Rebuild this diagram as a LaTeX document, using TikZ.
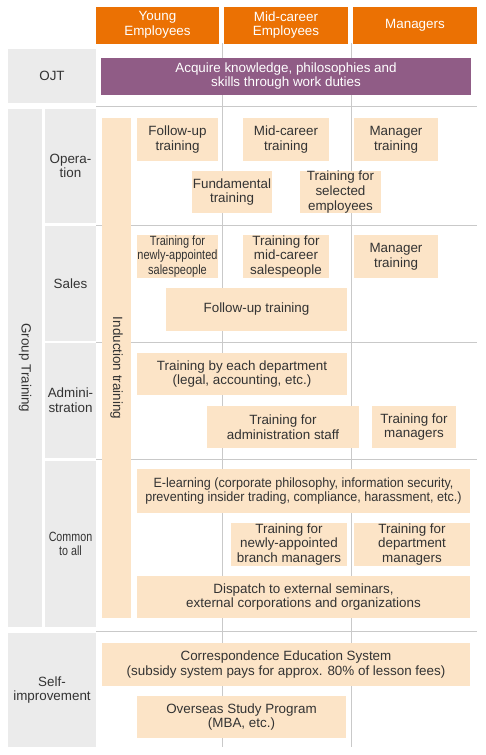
\documentclass[tikz,border=0pt]{standalone}
\usepackage{fontspec}
\setmainfont{Liberation Sans}
\usepackage{graphicx}
\usepackage{xcolor}
\usepackage{tikz}
\definecolor{hdrorange}{HTML}{EB7103}
\definecolor{ojtpurple}{HTML}{905C86}
\definecolor{catgray}{HTML}{EBEBEB}
\definecolor{peach}{HTML}{FCE4C7}
\definecolor{gridgray}{HTML}{C9C9C9}
\definecolor{txt}{HTML}{333333}
\newcommand{\cond}[2][0.84]{\scalebox{#1}[1]{#2}}

\begin{document}
\begin{tikzpicture}[x=1pt,y=-1pt,
every node/.style={font=\fontsize{13.4}{14.6}\selectfont,text=txt,align=center,inner sep=0pt},
hdr/.style={fill=hdrorange,text=white,minimum height=37,minimum width=124},
cat/.style={fill=catgray},
pch/.style={fill=peach},
grid/.style={gridgray,line width=1pt}]
\useasboundingbox(0,0)rectangle(485,755);
\draw[grid](222,43)--(222,747) (351,43)--(351,747);
\foreach \yy in {106,225,342,459,631}
\draw[grid](96,\yy)--(477,\yy);
\node[hdr,minimum width=123](young)at(157.5,25){Young\\Employees};
\node[hdr](midcareer)at(286,25){Mid-career\\Employees};
\node[hdr](managers)at(415,25){Managers};
\node[cat,minimum width=88,minimum height=54](ojt)at(52,76){OJT};
\node[fill=ojtpurple,text=white,minimum width=370,minimum height=37](duties)at(286,76){Acquire knowledge, philosophies and\\skills through work duties};
\node[cat,minimum width=34,minimum height=518](group)at(25,368){};
\node[rotate=-90](grouptxt)at(group.center){Group Training};
\node[cat,minimum width=51,minimum height=114](operation)at(70.5,166){Opera-\\tion};
\node[cat,minimum width=51,minimum height=115](sales)at(70.5,283.5){Sales};
\node[cat,minimum width=51,minimum height=115](admin)at(70.5,400.5){Admini-\\stration};
\node[cat,minimum width=51,minimum height=166](common)at(70.5,544){\cond[0.8]{Common}\\\cond[0.8]{to all}};
\node[cat,minimum width=88,minimum height=114](self)at(52,690){Self-\\improvement};
\node[pch,minimum width=29,minimum height=500](induction)at(116.5,368){};
\node[rotate=-90](inductiontxt)at(induction.center){Induction training};
\node[pch,minimum width=81,minimum height=43](followup)at(177.5,139.5){Follow-up\\training};
\node[pch,minimum width=86,minimum height=43](midtrain)at(286,139.5){Mid-career\\training};
\node[pch,minimum width=84,minimum height=43](mgrtrain)at(396,139.5){Manager\\training};
\node[pch,minimum width=80,minimum height=42](fundamental)at(232,192){Fundamental\\training};
\node[pch,minimum width=81,minimum height=42](selected)at(340.5,192){Training for\\selected\\employees};
\node[pch,minimum width=81,minimum height=43](newsales)at(177.5,256.5){\cond[0.82]{Training for}\\\cond[0.82]{newly-appointed}\\\cond[0.82]{salespeople}};
\node[pch,minimum width=86,minimum height=43](midsales)at(286,256.5){Training for\\mid-career\\salespeople};
\node[pch,minimum width=84,minimum height=43](mgrsales)at(396,256.5){Manager\\training};
\node[pch,minimum width=181,minimum height=43](followsales)at(256.5,309.5){Follow-up training};
\node[pch,minimum width=210,minimum height=42](eachdept)at(242,374){Training by each department\\(legal, accounting, etc.)};
\node[pch,minimum width=152,minimum height=42](adminstaff)at(283,427){Training for\\administration staff};
\node[pch,minimum width=84,minimum height=42](adminmgr)at(414,427){Training for\\managers};
\node[pch,minimum width=333,minimum height=44](elearning)at(303.5,491){\cond[0.94]{E-learning (corporate philosophy, information security,}\\\cond[0.94]{preventing insider trading, compliance, harassment, etc.)}};
\node[pch,minimum width=116,minimum height=43](branchmgr)at(289,544.5){Training for\\newly-appointed\\branch managers};
\node[pch,minimum width=116,minimum height=43](deptmgr)at(412,544.5){Training for\\department\\managers};
\node[pch,minimum width=333,minimum height=42](dispatch)at(303.5,597){Dispatch to external seminars,\\external corporations and organizations};
\node[pch,minimum width=368,minimum height=43](corresp)at(286,664.5){Correspondence Education System\\(subsidy system pays for approx. 80\% of lesson fees)};
\node[pch,minimum width=209,minimum height=42](overseas)at(241.5,717){Overseas Study Program\\(MBA, etc.)};
\end{tikzpicture}
\end{document}
